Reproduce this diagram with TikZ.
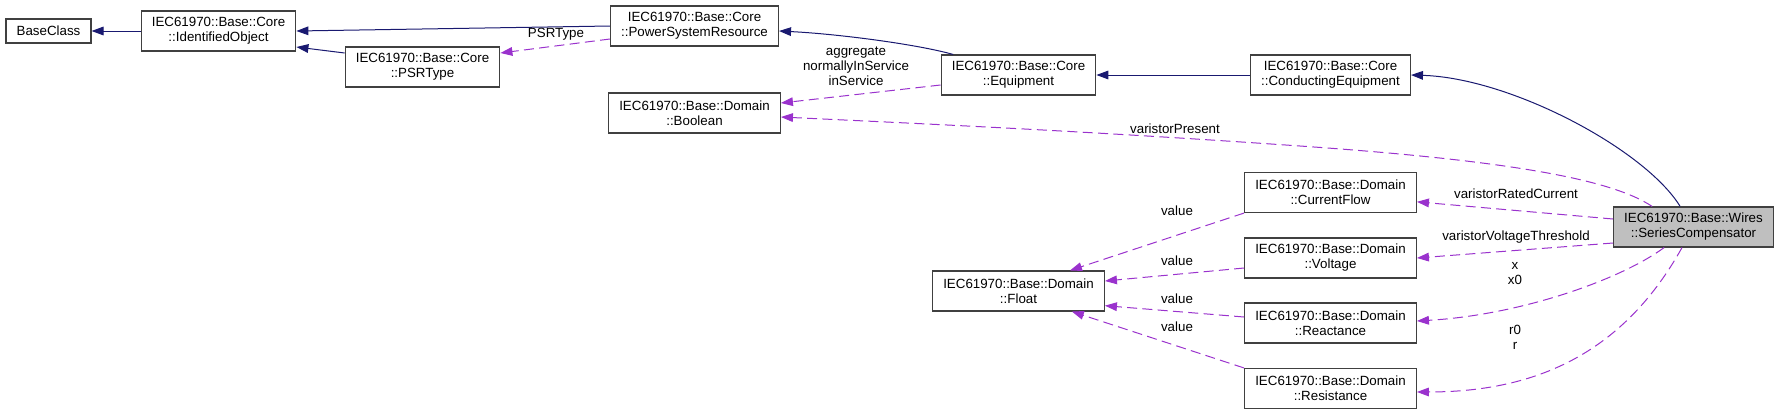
\documentclass[tikz,border=0pt]{standalone}
\usepackage{fontspec}
\setmainfont{Liberation Sans}
\usepackage{tikz}
\usetikzlibrary{arrows.meta}

\definecolor{inhblue}{HTML}{191970}
\definecolor{usepurple}{HTML}{9A32CD}
\definecolor{selgray}{HTML}{BFBFBF}

\tikzset{
  cls/.style={draw=black!75, line width=0.8pt, fill=white, align=center, inner xsep=8pt, inner ysep=2pt, minimum height=30pt, font=\fontsize{10}{11.25}\selectfont},
  inh/.style={draw=inhblue, line width=0.75pt, -{Triangle[length=9pt,width=6.5pt]}},
  usage/.style={draw=usepurple, line width=0.75pt, dash pattern=on 7.5pt off 4pt, -{Triangle[length=9pt,width=6.5pt]}},
  lbl/.style={align=center, inner sep=0pt, font=\fontsize{10}{11.25}\selectfont}
}

\begin{document}
\begin{tikzpicture}[x=0.75pt, y=-0.75pt]
    \useasboundingbox (0,0) rectangle (1779,415);

    \node[cls, minimum height=18pt] (BaseClass) at (48.5, 31){BaseClass};
    \node[cls] (IdentObj) at (218.5, 31){IEC61970::Base::Core\\::IdentifiedObject};
    \node[cls] (PSRType) at (422.5, 67){IEC61970::Base::Core\\::PSRType};
    \node[cls] (PowerSysRes) at (694.5, 26){IEC61970::Base::Core\\::PowerSystemResource};
    \node[cls] (Boolean) at (694.5, 113){IEC61970::Base::Domain\\::Boolean};
    \node[cls] (Equipment) at (1018.5, 75){IEC61970::Base::Core\\::Equipment};
    \node[cls] (CondEquip) at (1330.5, 75){IEC61970::Base::Core\\::ConductingEquipment};
    \node[cls] (Float) at (1018.5, 291){IEC61970::Base::Domain\\::Float};
    \node[cls] (CurrentFlow) at (1330.5, 192.5){IEC61970::Base::Domain\\::CurrentFlow};
    \node[cls] (Voltage) at (1330.5, 258){IEC61970::Base::Domain\\::Voltage};
    \node[cls] (Reactance) at (1330.5, 323){IEC61970::Base::Domain\\::Reactance};
    \node[cls] (Resistance) at (1330.5, 388.5){IEC61970::Base::Domain\\::Resistance};
    \node[cls, fill=selgray] (SeriesComp) at (1693.5, 227){IEC61970::Base::Wires\\::SeriesCompensator};

    % inheritance
    \draw[inh] (IdentObj.west)--(BaseClass.east);
    \draw[inh] (PowerSysRes.west)--(IdentObj.east);
    \draw[inh] ([yshift=10.5pt]PSRType.west)--([yshift=-12pt]IdentObj.east);
    \draw[inh] ([xshift=-49pt]Equipment.north) .. controls +(-35,-10) and +(60,3) .. ([yshift=-3.75pt]PowerSysRes.east);
    \draw[inh] (CondEquip.west)--(Equipment.east);
    \draw[inh] ([xshift=-10pt]SeriesComp.north) .. controls +(-35,-57) and +(100,3) .. (CondEquip.east);

    % members
    \draw[usage] ([yshift=-9.75pt]PowerSysRes.west)--([yshift=10.5pt]PSRType.east)
      node[lbl] (lblPSRType) at (556, 34){PSRType};
    \draw[usage] ([yshift=-7.5pt]Equipment.west)--([yshift=7.5pt]Boolean.east)
      node[lbl] (lblInService) at (856, 66){aggregate\\normallyInService\\inService};
    \draw[usage] ([xshift=-31pt]SeriesComp.north) .. controls (1610, 178) and (1500, 160) .. (1300, 146)
      .. controls (1100, 132) and (950, 125) .. ([yshift=-3pt]Boolean.east)
      node[lbl] (lblPresent) at (1175, 129){varistorPresent};
    \draw[usage] ([yshift=6pt]SeriesComp.west)--([yshift=-7pt]CurrentFlow.east)
      node[lbl] (lblRatedCur) at (1516, 194){varistorRatedCurrent};
    \draw[usage] ([yshift=-12pt]SeriesComp.west)--(Voltage.east)
      node[lbl] (lblVoltThr) at (1516, 237){varistorVoltageThreshold};
    \draw[usage] ([xshift=-22pt]SeriesComp.south) .. controls (1620, 280) and (1520, 315) .. ([yshift=1.5pt]Reactance.east)
      node[lbl] (lblX) at (1515, 274){x\\x0};
    \draw[usage] ([xshift=-8.6pt]SeriesComp.south) .. controls (1625, 350) and (1540, 392) .. ([yshift=-2.6pt]Resistance.east)
      node[lbl] (lblR) at (1515, 337){r0\\r};

    % values
    \draw[usage] (CurrentFlow.south west)--([xshift=38.6pt]Float.north)
      node[lbl] (lblValA) at (1177, 211){value};
    \draw[usage] ([yshift=-7.5pt]Voltage.west)--([yshift=7.5pt]Float.east)
      node[lbl] (lblValB) at (1177, 261){value};
    \draw[usage] ([yshift=4.5pt]Reactance.west)--([yshift=-11pt]Float.east)
      node[lbl] (lblValC) at (1177, 299){value};
    \draw[usage] (Resistance.north west)--([xshift=40pt]Float.south)
      node[lbl] (lblValD) at (1177, 327){value};
  \end{tikzpicture}
\end{document}
